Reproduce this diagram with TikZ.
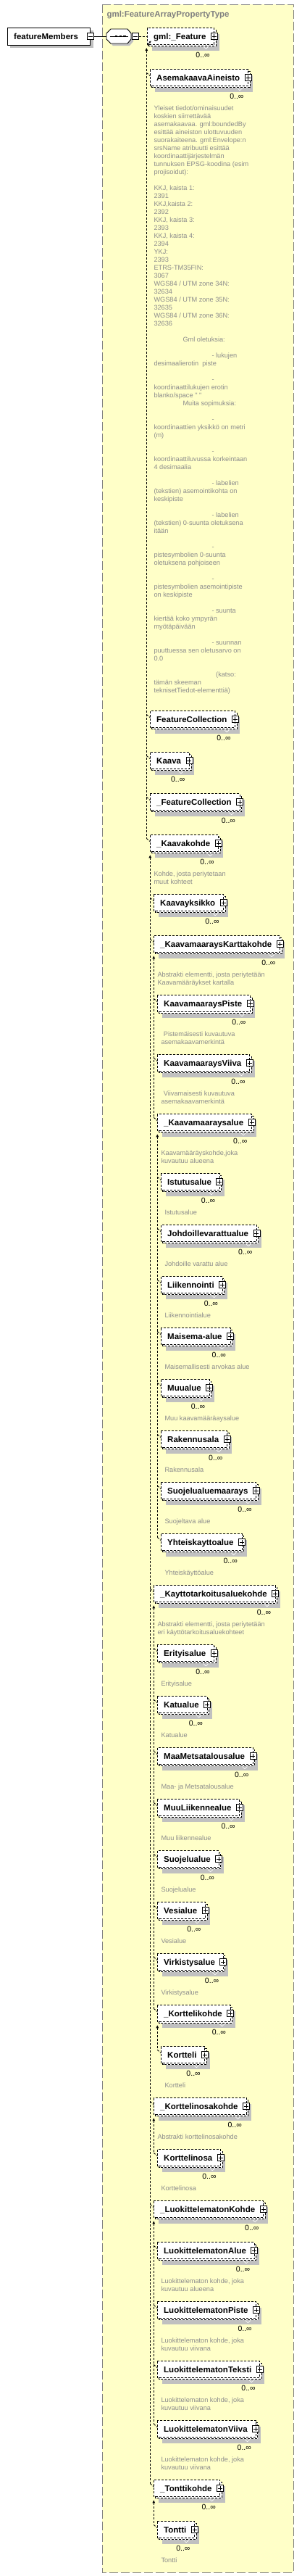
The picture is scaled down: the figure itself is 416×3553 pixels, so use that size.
\documentclass[tikz,border=0pt]{standalone}
\usepackage{fontspec}
\newfontfamily\lsans{Liberation Sans}
\usetikzlibrary{arrows.meta}
\definecolor{bgyellow}{RGB}{255,255,200}
\definecolor{shadowc}{RGB}{192,192,192}
\definecolor{bordergray}{RGB}{128,128,128}
\definecolor{desccol}{RGB}{140,140,140}
\newcommand\namefont{\lsans\bfseries\fontsize{11.5}{13}\selectfont}
\newcommand\descfont{\lsans\fontsize{9.2}{11}\selectfont}
\newcommand\multfont{\lsans\fontsize{10.5}{12}\selectfont}
\newcount\dlc
\pgfdeclarelayer{frame}
\pgfdeclarelayer{bg}
\pgfsetlayers{frame,bg,main}
\tikzset{
 elbox/.style={draw=black, fill=white, line width=0.9pt, dash pattern=on 3pt off 2pt},
 conn/.style={draw=black, line width=0.9pt, dash pattern=on 3pt off 2pt},
 nametext/.style={font=\namefont, anchor=base west, inner sep=0pt},
 dtext/.style={font=\descfont, text=desccol, anchor=base west, inner sep=0pt},
 multtext/.style={font=\multfont, anchor=base east, inner sep=0pt},
 pbox/.style={draw=black, fill=white, line width=0.8pt, minimum size=9pt, inner sep=0pt},
 headarrow/.style={{Triangle[width=3.4pt,length=4pt]}-},
}
% element box: #1 id, #2 left x, #3 centre y, #4 text
\newcommand\elem[4]{%
  \node[nametext] (#1) at (#2+8.7,#3+4) {#4};
  \path (#1.east); \pgfgetlastxy{\ex}{\ey}%
  \pgfmathsetmacro\eR{\ex+11.2}%
  \begin{pgfonlayer}{bg}
  \fill[shadowc] (#2+6.5,#3-3) rectangle (\eR+6.7,#3+19.7);
  \filldraw[elbox] (#2+2.5,#3-9) rectangle (\eR+2.5,#3+13.5);
  \filldraw[elbox] (#2,#3-11.5) rectangle (\eR,#3+11);
  \draw[white, line width=0.6pt] (\eR-15,#3+14.2) -- (\eR-11.5,#3+17.5) -- (\eR-8,#3+14.2);
  \end{pgfonlayer}
  \node[pbox] (#1p) at (\eR,#3) {};
  \draw[line width=0.8pt] (\eR-3,#3) -- (\eR+3,#3) (\eR,#3-3) -- (\eR,#3+3);
  \node[multtext] (#1m) at (\eR-6,#3+29.5) {0..∞};
  \coordinate (#1w) at (#2,#3-2.5);
  \coordinate (#1l) at (#2,#3);
  \coordinate (#1c) at (#2-5,#3-7);
  \coordinate (#1a) at (#2,#3+16);
}
\newcommand\dstart[2]{\xdef\dX{#1}\xdef\dY{#2}}
\newcommand\dadv{\pgfmathsetmacro\tmpy{\dY+11}\xdef\dY{\tmpy}}
\newcommand\dl[2][0]{\global\advance\dlc by 1\relax\node[dtext] (d\the\dlc) at (\dX+#1,\dY+3.5) {#2};\dadv}
\newcommand\dskip{\dadv}
\begin{document}
\begin{tikzpicture}[x=1pt,y=-1pt]
\useasboundingbox (0,0) rectangle (416,3553);
% type frame
\begin{pgfonlayer}{frame}
\filldraw[fill=bgyellow, draw=bordergray, line width=1pt, dash pattern=on 12pt off 4pt] (141,6) rectangle (405,3548);
\end{pgfonlayer}
\node[font=\namefont, text=bordergray, anchor=base west, inner sep=0pt] (title) at (147.3,23) {gml:FeatureArrayPropertyType};

% root element
\fill[shadowc] (14.3,42.3) rectangle (128.7,66);
\filldraw[fill=white, draw=black, line width=0.9pt] (10.3,38.3) rectangle (124.7,62);
\node[nametext] (fm) at (19,54) {featureMembers};
\node[pbox] (fmm) at (124.7,50) {};
\draw[line width=0.8pt] (121.7,50) -- (127.7,50);

% sequence compositor
\fill[shadowc] (156,43) -- (179,43) -- (184,49) -- (184,57) -- (179,63) -- (156,63) -- (150,57) -- (150,49) -- cycle;
\filldraw[fill=white, draw=black, line width=0.9pt] (153,40) -- (176,40) -- (181,46) -- (181,54) -- (176,60) -- (153,60) -- (147,54) -- (147,46) -- cycle;
\coordinate (seqw) at (147,50);
\draw[line width=0.9pt] (151.7,50) -- (176.7,50);
\fill (159,48.7) rectangle (162.3,51.3);
\fill (164.6,48.7) rectangle (167.9,51.3);
\fill (170.2,48.7) rectangle (173.5,51.3);
\node[pbox] (seqm) at (186.8,50) {};
\draw[line width=0.8pt] (183.8,50) -- (189.8,50);
\draw[line width=0.9pt] (fmm.east) -- (seqw);

% elements
\elem{gmlF}{203.3}{50}{gml:\_Feature}
\elem{aa}{207.3}{107.3}{AsemakaavaAineisto}
\elem{fc}{207.3}{992.3}{FeatureCollection}
\elem{ka}{207.3}{1049.3}{Kaava}
\elem{ufc}{207.3}{1106.3}{\_FeatureCollection}
\elem{ukk}{207.3}{1163.3}{\_Kaavakohde}
\elem{kyk}{212.3}{1245.3}{Kaavayksikko}
\elem{ukmk}{212.3}{1302.3}{\_KaavamaaraysKarttakohde}
\elem{kmp}{217.3}{1384.3}{KaavamaaraysPiste}
\elem{kmv}{217.3}{1466.3}{KaavamaaraysViiva}
\elem{ukma}{217.3}{1548.3}{\_Kaavamaaraysalue}
\elem{ist}{222.3}{1630.3}{Istutusalue}
\elem{joh}{222.3}{1701.3}{Johdoillevarattualue}
\elem{lii}{222.3}{1772.3}{Liikennointi}
\elem{mai}{222.3}{1843.3}{Maisema-alue}
\elem{muu}{222.3}{1914.3}{Muualue}
\elem{rak}{222.3}{1985.3}{Rakennusala}
\elem{sjm}{222.3}{2056.3}{Suojelualuemaarays}
\elem{yht}{222.3}{2127.3}{Yhteiskayttoalue}
\elem{ukt}{212.3}{2198.3}{\_Kayttotarkoitusaluekohde}
\elem{eri}{217.3}{2280.3}{Erityisalue}
\elem{kat}{217.3}{2351.3}{Katualue}
\elem{mms}{217.3}{2422.3}{MaaMetsatalousalue}
\elem{mla}{217.3}{2493.3}{MuuLiikennealue}
\elem{sua}{217.3}{2564.3}{Suojelualue}
\elem{ves}{217.3}{2635.3}{Vesialue}
\elem{vir}{217.3}{2706.3}{Virkistysalue}
\elem{ukok}{217.3}{2777.3}{\_Korttelikohde}
\elem{kor}{222.3}{2834.3}{Kortteli}
\elem{ukon}{212.3}{2905.3}{\_Korttelinosakohde}
\elem{kon}{217.3}{2976.3}{Korttelinosa}
\elem{ulk}{212.3}{3047.3}{\_LuokittelematonKohde}
\elem{lal}{217.3}{3104.3}{LuokittelematonAlue}
\elem{lpi}{217.3}{3186.3}{LuokittelematonPiste}
\elem{lte}{217.3}{3268.3}{LuokittelematonTeksti}
\elem{lvi}{217.3}{3350.3}{LuokittelematonViiva}
\elem{uto}{212.3}{3432.3}{\_Tonttikohde}
\elem{ton}{217.3}{3489.3}{Tontti}

% reference arrow in gml:_Feature
\draw[line width=0.8pt, -{Stealth[length=3pt,width=3pt]}] (204.3,63.3) -- (204.3,61) -- (208.6,56.5);

% connectors
\draw[conn] (seqm.east) -- (gmlFl);
\coordinate (gmlFa2) at ([xshift=-1pt]gmlFa);
\draw[conn, headarrow] (gmlFa2) -- (ukkc);
\foreach \k in {aa,fc,ka,ufc,ukk} {\draw[conn] (\k c) -- (\k w);}
\draw[conn, headarrow] (ukka) -- (utoc);
\foreach \k in {kyk,ukmk,ukt,ukon,ulk,uto} {\draw[conn] (\k c) -- (\k w);}
\draw[conn, headarrow] (ukmka) -- (ukmac);
\foreach \k in {kmp,kmv,ukma} {\draw[conn] (\k c) -- (\k w);}
\draw[conn, headarrow] (ukmaa) -- (yhtc);
\foreach \k in {ist,joh,lii,mai,muu,rak,sjm,yht} {\draw[conn] (\k c) -- (\k w);}
\draw[conn, headarrow] (ukta) -- (ukokc);
\foreach \k in {eri,kat,mms,mla,sua,ves,vir,ukok} {\draw[conn] (\k c) -- (\k w);}
\draw[conn, headarrow] (ukoka) -- (korc);
\draw[conn] (korc) -- (korw);
\draw[conn, headarrow] (ukona) -- (konc);
\draw[conn] (konc) -- (konw);
\draw[conn, headarrow] (ulka) -- (lvic);
\foreach \k in {lal,lpi,lte,lvi} {\draw[conn] (\k c) -- (\k w);}
\draw[conn, headarrow] (utoa) -- (tonc);
\draw[conn] (tonc) -- (tonw);

% descriptions
\dstart{212.3}{149}
\dl{Yleiset tiedot/ominaisuudet}
\dl{koskien siirrettävää}
\dl{asemakaavaa. gml:boundedBy}
\dl{esittää aineiston ulottuvuuden}
\dl{suorakaiteena. gml:Envelope:n}
\dl{srsName atribuutti esittää}
\dl{koordinaattijärjestelmän}
\dl{tunnuksen EPSG-koodina (esim}
\dl{projisoidut):}
\dskip
\dl{KKJ, kaista 1:}
\dl{2391}
\dl{KKJ,kaista 2:}
\dl{2392}
\dl{KKJ, kaista 3:}
\dl{2393}
\dl{KKJ, kaista 4:}
\dl{2394}
\dl{YKJ:}
\dl{2393}
\dl{ETRS-TM35FIN:}
\dl{3067}
\dl{WGS84 / UTM zone 34N:}
\dl{32634}
\dl{WGS84 / UTM zone 35N:}
\dl{32635}
\dl{WGS84 / UTM zone 36N:}
\dl{32636}
\dskip
\dl[40]{Gml oletuksia:}
\dskip
\dl[80]{- lukujen}
\dl{desimaalierotin\ \ piste}
\dskip
\dl[80]{-}
\dl{koordinaattilukujen erotin}
\dl{blanko/space " "}
\dl[40]{Muita sopimuksia:}
\dskip
\dl[80]{-}
\dl{koordinaattien yksikkö on metri}
\dl{(m)}
\dskip
\dl[80]{-}
\dl{koordinaattiluvussa korkeintaan}
\dl{4 desimaalia}
\dskip
\dl[80]{- labelien}
\dl{(tekstien) asemointikohta on}
\dl{keskipiste}
\dskip
\dl[80]{- labelien}
\dl{(tekstien) 0-suunta oletuksena}
\dl{itään}
\dskip
\dl[80]{-}
\dl{pistesymbolien 0-suunta}
\dl{oletuksena pohjoiseen}
\dskip
\dl[80]{-}
\dl{pistesymbolien asemointipiste}
\dl{on keskipiste}
\dskip
\dl[80]{- suunta}
\dl{kiertää koko ympyrän}
\dl{myötäpäivään}
\dskip
\dl[80]{- suunnan}
\dl{puuttuessa sen oletusarvo on}
\dl{0.0}
\dskip
\dl[85.7]{(katso:}
\dl{tämän skeeman}
\dl{teknisetTiedot-elementtiä)}

\dstart{212.3}{1204.8}
\dl{Kohde, josta periytetaan}
\dl{muut kohteet}
\dstart{217.3}{1343.8}
\dl{Abstrakti elementti, josta periytetään}
\dl{Kaavamääräykset kartalla}
\dstart{222.3}{1425.8}
\dl[3.4]{Pistemäisesti kuvautuva}
\dl{asemakaavamerkintä}
\dstart{222.3}{1507.8}
\dl[3.4]{Viivamaisesti kuvautuva}
\dl{asemakaavamerkintä}
\dstart{222.3}{1589.8}
\dl{Kaavamääräyskohde,joka}
\dl{kuvautuu alueena}
\dstart{227.3}{1671.8}\dl{Istutusalue}
\dstart{227.3}{1742.8}\dl{Johdoille varattu alue}
\dstart{227.3}{1813.8}\dl{Liikennointialue}
\dstart{227.3}{1884.8}\dl{Maisemallisesti arvokas alue}
\dstart{227.3}{1955.8}\dl{Muu kaavamääräaysalue}
\dstart{227.3}{2026.8}\dl{Rakennusala}
\dstart{227.3}{2097.8}\dl{Suojeltava alue}
\dstart{227.3}{2168.8}\dl{Yhteiskäyttöalue}
\dstart{217.3}{2239.8}
\dl{Abstrakti elementti, josta periytetään}
\dl{eri käyttötarkoitusaluekohteet}
\dstart{222.3}{2321.8}\dl{Erityisalue}
\dstart{222.3}{2392.8}\dl{Katualue}
\dstart{222.3}{2463.8}\dl{Maa- ja Metsatalousalue}
\dstart{222.3}{2534.8}\dl{Muu liikennealue}
\dstart{222.3}{2605.8}\dl{Suojelualue}
\dstart{222.3}{2676.8}\dl{Vesialue}
\dstart{222.3}{2747.8}\dl{Virkistysalue}
\dstart{227.3}{2875.8}\dl{Kortteli}
\dstart{217.3}{2946.8}\dl{Abstrakti korttelinosakohde}
\dstart{222.3}{3017.8}\dl{Korttelinosa}
\dstart{222.3}{3145.8}
\dl{Luokittelematon kohde, joka}
\dl{kuvautuu alueena}
\dstart{222.3}{3227.8}
\dl{Luokittelematon kohde, joka}
\dl{kuvautuu viivana}
\dstart{222.3}{3309.8}
\dl{Luokittelematon kohde, joka}
\dl{kuvautuu viivana}
\dstart{222.3}{3391.8}
\dl{Luokittelematon kohde, joka}
\dl{kuvautuu viivana}
\dstart{222.3}{3530.8}\dl{Tontti}
\end{tikzpicture}
\end{document}
